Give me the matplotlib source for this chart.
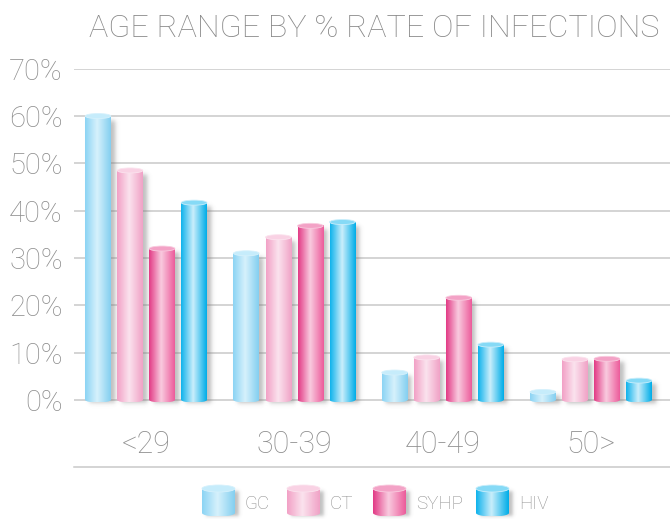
import numpy as np
import matplotlib
matplotlib.use("Agg")
import matplotlib.pyplot as plt
from matplotlib.colors import LinearSegmentedColormap
from matplotlib.patches import Ellipse
from matplotlib.lines import Line2D

plt.rcParams['font.family'] = ['Roboto', 'DejaVu Sans']
plt.rcParams['font.weight'] = 'light'

# data (percent)
groups = ['<29', '30-39', '40-49', '50>']
series = ['GC', 'CT', 'SYHP', 'HIV']
gc = [60, 31, 5.8, 1.7]
ct = [48.5, 34.4, 9.0, 8.6]
syhp = [32, 36.8, 21.6, 8.7]
hiv = [41.7, 37.6, 11.7, 4.1]
values = [gc, ct, syhp, hiv]

# shading per series: left edge, highlight, right edge, top face
shades = [
    ('#8cd4f4', '#d6f1fc', '#84cff0', '#c6ecfb'),
    ('#f2a1c6', '#fbe3ee', '#f0a2c6', '#f9d2e4'),
    ('#e23b86', '#f9cbdf', '#ec5c9b', '#f3a2c6'),
    ('#10b3ec', '#caeefb', '#00ade8', '#86daf6'),
]
text_grey = '#8e8e8e'

W, H = 670, 519
fig = plt.figure(figsize=(W / 100, H / 100), dpi=100)

# pixel layout of plot area
x_left_px, zero_px, top_px = 74, 400, 68.7
px_per_10 = (zero_px - top_px) / 7
ymin = -2.2
bottom_px = zero_px - ymin / 10 * px_per_10
ax = fig.add_axes([x_left_px / W, 1 - bottom_px / H, 1 - x_left_px / W, (bottom_px - top_px) / H])

x = np.arange(len(groups))
pitch = 0.216
bw = 0.173
xlim = (-0.486, 3.533)
ax.set_xlim(*xlim)
ax.set_ylim(ymin, 70)

px2x = (xlim[1] - xlim[0]) / (W - x_left_px)
px2y = 10 / px_per_10


def grad_cmap(st):
    return LinearSegmentedColormap.from_list('g', [(0, st[0]), (0.47, st[1]), (1, st[2])])


def soft(u, a, b, s):
    return 0.25 * (1 + np.tanh((u - a) / s)) * (1 + np.tanh((b - u) / s))


def cylinder(a, x0, w, y0, y1, eh, st, sx, sy, blur_x, blur_y, z):
    # drop shadow
    lo, hi_ = min(y0, y1), max(y0, y1)
    xs = np.linspace(x0 + sx - 3 * blur_x, x0 + w + sx + 3 * blur_x, 80)
    ys = np.linspace(lo + sy - 3 * blur_y, hi_ + sy + 3 * blur_y, 120)
    alpha = soft(xs, x0 + sx, x0 + w + sx, blur_x)[None, :] * soft(ys, lo + sy, hi_ + sy, blur_y)[:, None]
    img = np.zeros((len(ys), len(xs), 4))
    img[..., :3] = 0.45
    img[..., 3] = alpha * 0.45
    a.imshow(img, extent=[xs[0], xs[-1], ys[0], ys[-1]], aspect='auto', zorder=z - 0.5,
             interpolation='bilinear')
    cmap = grad_cmap(st)
    g = np.linspace(0, 1, 64)[None, :]
    # body
    a.imshow(g, cmap=cmap, extent=[x0, x0 + w, y0, y1], aspect='auto', zorder=z, interpolation='bilinear')
    # rounded base
    base = Ellipse((x0 + w / 2, y0), w, abs(eh), transform=a.transData)
    im = a.imshow(g, cmap=cmap, extent=[x0, x0 + w, y0 - eh / 2, y0 + eh / 2], aspect='auto',
                  zorder=z, interpolation='bilinear')
    im.set_clip_path(base)
    # top face
    a.add_patch(Ellipse((x0 + w / 2, y1), w, abs(eh), facecolor=st[3], edgecolor=st[1],
                        lw=0.6, zorder=z + 0.1))


for i, (vals, st) in enumerate(zip(values, shades)):
    bars = ax.bar(x + (i - 1.5) * pitch, vals, bw, color=st[3], linewidth=0, zorder=2)
    for r in bars:
        cylinder(ax, r.get_x(), r.get_width(), 0, r.get_height(), 5 * px2y, st,
                 4 * px2x, -4 * px2y, 2.5 * px2x, 2.5 * px2y, 3)

ax.set_xlim(*xlim)
ax.set_ylim(ymin, 70)
ax.set_yticks(range(0, 71, 10))
ax.set_yticklabels([f'{v}%' for v in range(0, 71, 10)])
ax.set_xticks(x)
ax.set_xticklabels(groups)
ax.grid(axis='y', color='#c9c9c9', linewidth=1.1, zorder=0)
ax.set_axisbelow(True)
for s in ax.spines.values():
    s.set_visible(False)
ax.tick_params(axis='y', length=0, pad=8, labelsize=21, labelcolor=text_grey)
ax.tick_params(axis='x', length=0, pad=14, labelsize=22, labelcolor=text_grey)
ax.patch.set_alpha(0)

fig.text(374 / W, 1 - 37 / H, 'AGE RANGE BY % RATE OF INFECTIONS', ha='center', va='baseline',
         fontsize=23.2, color='#888888', fontweight='light')

fig.add_artist(Line2D([x_left_px / W, 1], [1 - 467 / H] * 2, color='#c9c9c9', lw=1.1))

# legend drawn in pixel coordinates
lax = fig.add_axes([0, 0, 1, 1], zorder=5)
lax.set_xlim(0, W)
lax.set_ylim(H, 0)
lax.axis('off')
icon_x = [202, 287, 373, 476]
for name, st, ix in zip(series, shades, icon_x):
    cylinder(lax, ix, 33, 513, 488.5, 7, st, 4, 3, 2, 2, 3)
    lax.text(ix + 43, 504, name, ha='left', va='center', fontsize=13.5, color=text_grey,
             fontweight='light')
lax.set_xlim(0, W)
lax.set_ylim(H, 0)

fig.savefig('out.png', dpi=100)
